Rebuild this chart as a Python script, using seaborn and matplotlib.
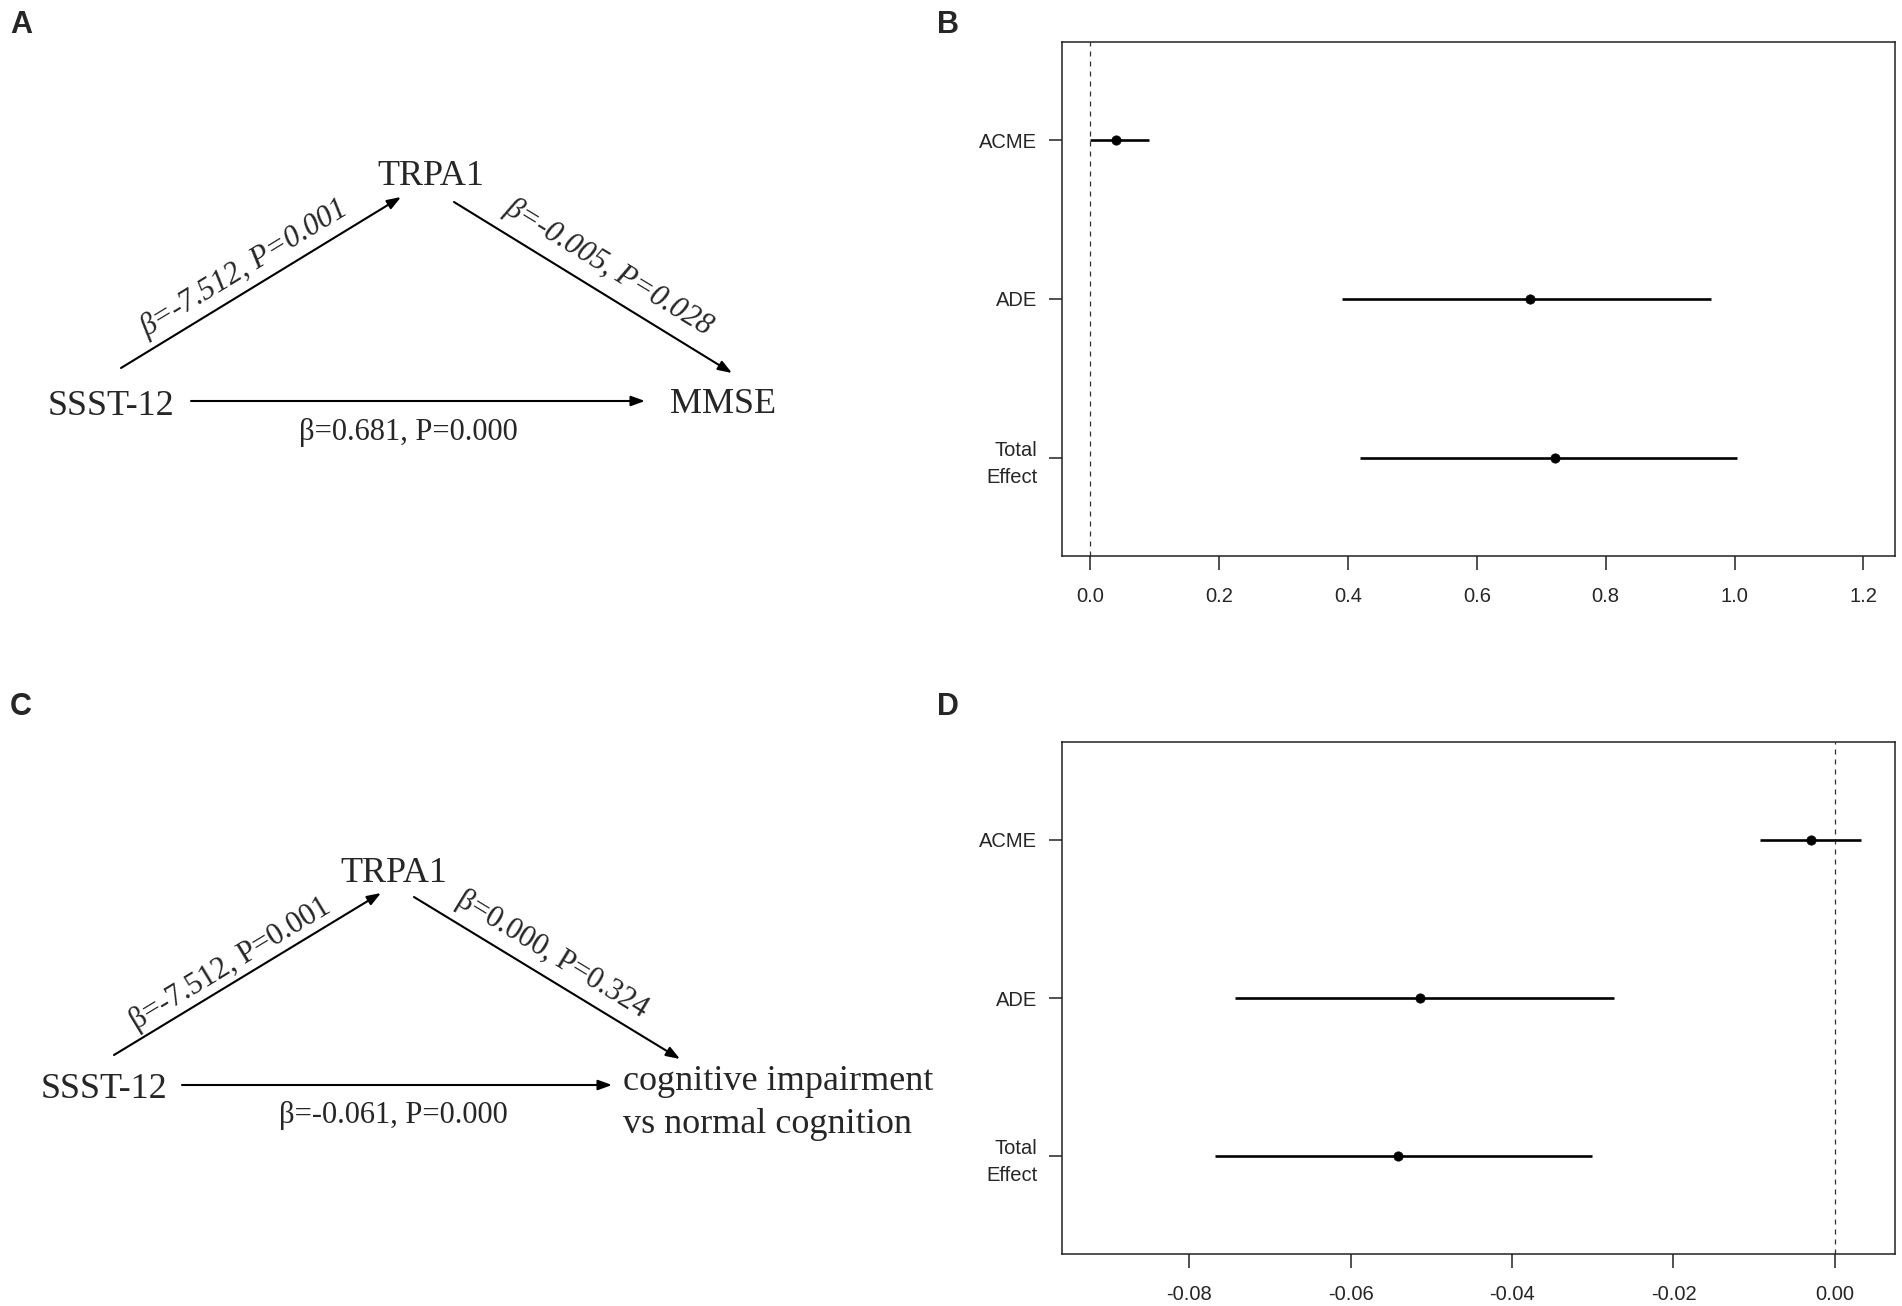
import matplotlib
matplotlib.use("Agg")
import pandas as pd
import seaborn as sns
import matplotlib.pyplot as plt

# %%
# mediation effect estimates (point + 95% CI)
effects = ["ACME", "ADE", "Total\nEffect"]
ypos = [3, 2, 1]

# panel B: SSST-12 -> TRPA1 -> MMSE
b_est = [0.040, 0.682, 0.722]
b_lo = [0.000, 0.390, 0.419]
b_hi = [0.091, 0.964, 1.003]
b_ticks = [0.0, 0.2, 0.4, 0.6, 0.8, 1.0, 1.2]

# panel D: SSST-12 -> TRPA1 -> cognitive impairment
d_est = [-0.0030, -0.0514, -0.0542]
d_lo = [-0.0093, -0.0743, -0.0768]
d_hi = [0.0032, -0.0274, -0.0301]
d_ticks = [-0.08, -0.06, -0.04, -0.02, 0.00]

# path diagram labels
a_nodes = ["SSST-12", "TRPA1", "MMSE"]
a_paths = ["β=-7.512, P=0.001", "β=-0.005, P=0.028", "β=0.681, P=0.000"]
c_nodes = ["SSST-12", "TRPA1", "cognitive impairment", "vs normal cognition"]
c_paths = ["β=-7.512, P=0.001", "β=0.000, P=0.324", "β=-0.061, P=0.000"]

# %%
sns.set_style("ticks")
plt.rcParams["font.family"] = ["Liberation Sans", "DejaVu Sans"]
SERIF = ["Liberation Serif", "DejaVu Serif"]

W, H = 1902, 1306
fig = plt.figure(figsize=(W / 100, H / 100), dpi=100)

# overlay in pixel units for the path diagrams and panel letters
ov = fig.add_axes([0, 0, 1, 1])
ov.set_xlim(0, W)
ov.set_ylim(H, 0)
ov.axis("off")

for lab, x, y in [("A", 10, 33), ("B", 937, 33), ("C", 10, 715), ("D", 937, 715)]:
    ov.text(x, y, lab, fontsize=22, fontweight="bold", ha="left", va="baseline")


def arrow(p0, p1):
    ov.annotate("", xy=p1, xytext=p0,
                arrowprops=dict(arrowstyle="-|>,head_length=0.55,head_width=0.2",
                                mutation_scale=15, lw=1.5, color="black",
                                shrinkA=0, shrinkB=0))


def node(x, y, s, ha="center"):
    ov.text(x, y, s, fontsize=26, family=SERIF, ha=ha, va="baseline")


def path_label(x, y, s, rot, style="normal", va="center"):
    ov.text(x, y, s, fontsize=22, family=SERIF, style=style, rotation=rot,
            rotation_mode="anchor", ha="center", va=va)


# panel A
node(111, 415, a_nodes[0])
node(431, 185, a_nodes[1])
node(723, 413, a_nodes[2])
arrow((121, 368), (401, 197))
arrow((454, 202), (732, 373))
arrow((191, 401), (645, 401))
path_label(244, 269, a_paths[0], 31.4, style="italic")
path_label(609, 267, a_paths[1], -31.3, style="italic")
path_label(408, 440, a_paths[2], 0, va="baseline")

# panel C
node(104, 1098, c_nodes[0])
node(394, 882, c_nodes[1])
node(623, 1090, c_nodes[2], ha="left")
node(623, 1133, c_nodes[3], ha="left")
arrow((114, 1055), (381, 893))
arrow((414, 897), (680, 1059))
arrow((182, 1085), (612, 1085))
path_label(230, 964, c_paths[0], 31.25)
path_label(552, 955, c_paths[1], -31.35)
path_label(393, 1123, c_paths[2], 0, va="baseline")


# %%
def effect_panel(rect, est, lo, hi, ticks, xlim, fmt):
    ax = fig.add_axes(rect)
    df = pd.DataFrame({"effect": effects, "y": ypos, "est": est, "lo": lo, "hi": hi})
    ax.axvline(0, ls=(0, (4, 4)), lw=0.9, color="#333333", zorder=1)
    ax.hlines(df["y"], df["lo"], df["hi"], color="black", lw=1.9, zorder=2)
    sns.scatterplot(data=df, x="est", y="y", ax=ax, color="black", s=45,
                    edgecolor="black", linewidth=0.5, zorder=3, legend=False)
    ax.set_xlim(*xlim)
    ax.set_ylim(0.38, 3.62)
    ax.set_yticks(ypos)
    ax.set_yticklabels(effects, linespacing=1.55)
    ax.set_xticks(ticks)
    ax.set_xticklabels([fmt.format(t) for t in ticks])
    ax.set_xlabel("")
    ax.set_ylabel("")
    ax.tick_params(axis="x", length=10, width=1.1, pad=12, labelsize=14.5, color="#222222")
    ax.tick_params(axis="y", length=9.4, width=1.1, pad=8.5, labelsize=14.5, color="#222222")
    for sp in ax.spines.values():
        sp.set_visible(True)
        sp.set_linewidth(1.1)
        sp.set_color("#222222")
    return ax


effect_panel([1062 / W, 1 - 556 / H, (1895 - 1062) / W, (556 - 42) / H],
             b_est, b_lo, b_hi, b_ticks, (-0.044, 1.249), "{:.1f}")
effect_panel([1062 / W, 1 - 1254 / H, (1895 - 1062) / W, (1254 - 742) / H],
             d_est, d_lo, d_hi, d_ticks, (-0.0958, 0.00746), "{:.2f}")

fig.savefig("out.png", dpi=100)
